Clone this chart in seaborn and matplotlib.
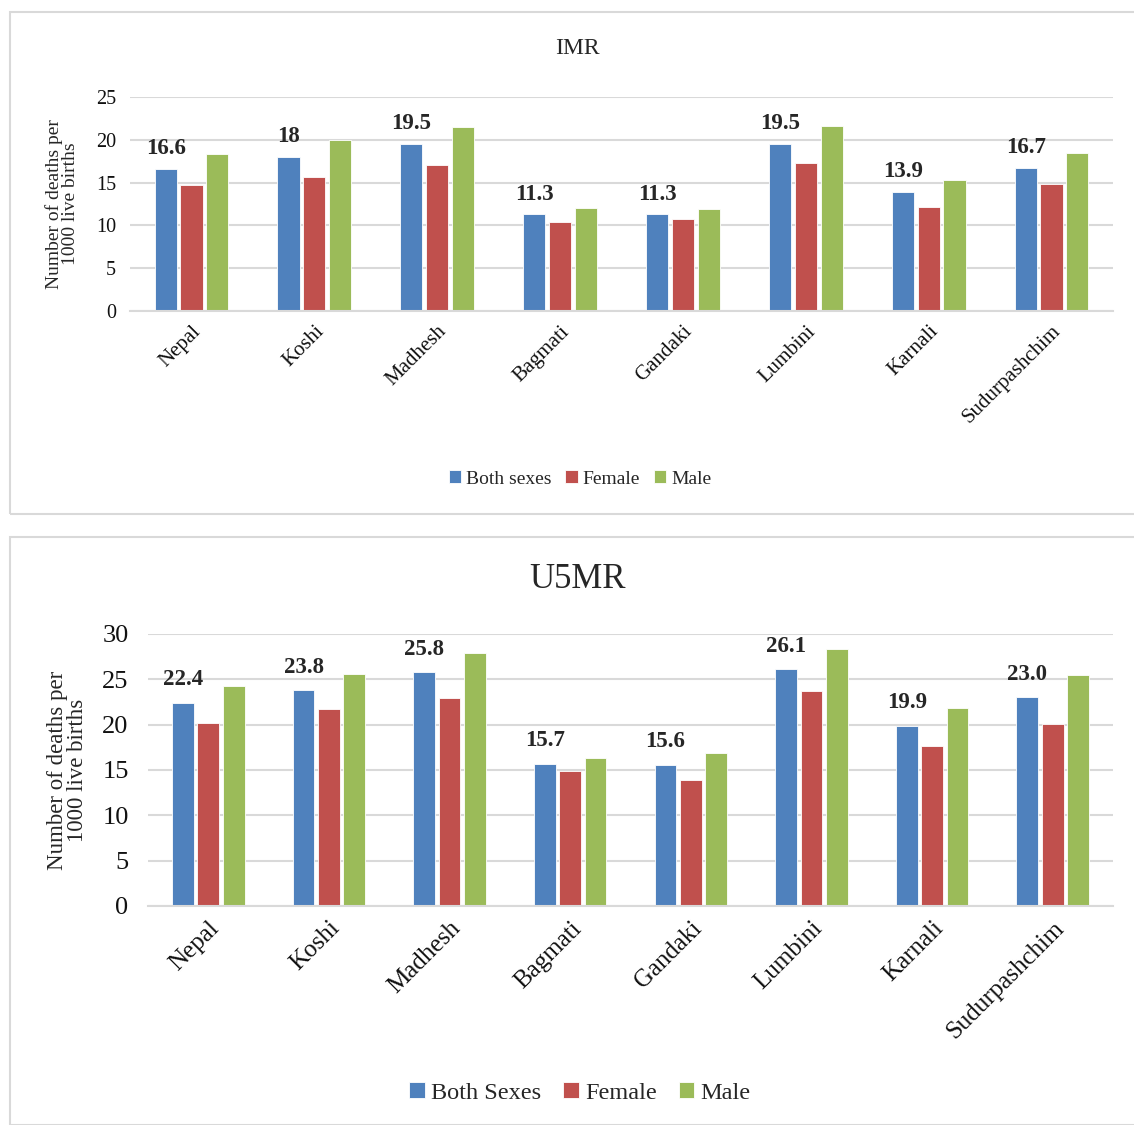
import pandas as pd
import seaborn as sns
import matplotlib.pyplot as plt
from matplotlib.patches import Rectangle

sns.set_theme(style="white")
plt.rcParams['font.family'] = ['Liberation Serif', 'DejaVu Serif']

provinces = ["Nepal", "Koshi", "Madhesh", "Bagmati", "Gandaki", "Lumbini", "Karnali", "Sudurpashchim"]

imr_both = [16.6, 18.0, 19.5, 11.3, 11.3, 19.5, 13.9, 16.7]
imr_female = [14.7, 15.7, 17.0, 10.4, 10.7, 17.3, 12.2, 14.8]
imr_male = [18.3, 20.0, 21.5, 12.0, 11.9, 21.6, 15.3, 18.4]
imr_labels = ["16.6", "18", "19.5", "11.3", "11.3", "19.5", "13.9", "16.7"]

u5_both = [22.4, 23.8, 25.8, 15.7, 15.6, 26.1, 19.9, 23.0]
u5_female = [20.2, 21.7, 22.9, 14.9, 13.9, 23.7, 17.7, 20.1]
u5_male = [24.3, 25.6, 27.9, 16.3, 16.9, 28.3, 21.8, 25.5]
u5_labels = ["22.4", "23.8", "25.8", "15.7", "15.6", "26.1", "19.9", "23.0"]

colors = ["#4f81bd", "#c0504d", "#9bbb59"]


def make_df(both, female, male, names):
    rows = []
    for vals, name in zip([both, female, male], names):
        for p, v in zip(provinces, vals):
            rows.append({"province": p, "sex": name, "value": v})
    return pd.DataFrame(rows)


def draw(ax, df, labels, ymax, tick_size, ytick_size, ytick_pad, ylab_size,
         ylab_pad, lab_size, lab_off, legend_y, legend_size, col_space):
    sns.barplot(data=df, x="province", y="value", hue="sex", palette=colors,
                width=0.63, gap=0.14, ax=ax, edgecolor="white", linewidth=0.6,
                saturation=1)
    ax.set_ylim(0, ymax)
    ax.set_yticks(range(0, ymax + 1, 5))
    ax.set_xlim(-0.5, len(provinces) - 0.5)
    ax.yaxis.grid(True, color="#d9d9d9", linewidth=1.5)
    ax.set_axisbelow(True)
    for s in ["top", "right", "left"]:
        ax.spines[s].set_visible(False)
    ax.spines["bottom"].set_color("#d9d9d9")
    ax.spines["bottom"].set_linewidth(1.5)
    ax.tick_params(axis="x", length=0, labelsize=tick_size, colors="#111111", pad=8)
    ax.tick_params(axis="y", length=0, labelsize=ytick_size, colors="#111111", pad=ytick_pad)
    plt.setp(ax.get_xticklabels(), rotation=45, ha="right", rotation_mode="anchor")
    ax.set_xlabel("")
    ax.set_ylabel("Number of deaths per\n1000 live births", fontsize=ylab_size,
                  linespacing=0.95, labelpad=ylab_pad)
    # value labels above the "both sexes" bars
    first = ax.containers[0]
    for bar, txt in zip(first, labels):
        ax.annotate(txt, (bar.get_x() + bar.get_width() / 2, bar.get_height()),
                    xytext=(0, lab_off), textcoords="offset points", ha="center",
                    va="bottom", fontsize=lab_size, fontweight="bold")
    ax.legend(loc="center", bbox_to_anchor=(580 / 1134, legend_y),
              bbox_transform=ax.figure.transFigure, ncol=3, frameon=False,
              fontsize=legend_size, handlelength=0.65, handleheight=0.65,
              handletextpad=0.25, columnspacing=col_space)


fig = plt.figure(figsize=(11.34, 11.25), dpi=100)

# panel frames
fig.patches.append(Rectangle((10 / 1134, 1 - 514 / 1125), 1.0, 502 / 1125,
                             transform=fig.transFigure, fill=False,
                             edgecolor="#d9d9d9", linewidth=1.5))
fig.patches.append(Rectangle((10 / 1134, 0.0), 1.0, 1 - 537 / 1125,
                             transform=fig.transFigure, fill=False,
                             edgecolor="#d9d9d9", linewidth=1.5))

ax1 = fig.add_axes([130 / 1134, 1 - 311 / 1125, 983 / 1134, 214 / 1125])
draw(ax1, make_df(imr_both, imr_female, imr_male, ["Both sexes", "Female", "Male"]),
     imr_labels, 25, 15, 14.5, 10, 14, 12, 16.5, 7, 1 - 479 / 1125, 14, 0.7)
fig.text(577 / 1134, 1 - 48 / 1125, "IMR", ha="center", va="center", fontsize=17)

ax2 = fig.add_axes([148 / 1134, 1 - 906 / 1125, 965 / 1134, 272 / 1125])
draw(ax2, make_df(u5_both, u5_female, u5_male, ["Both Sexes", "Female", "Male"]),
     u5_labels, 30, 18, 19, 14, 16.5, 10, 16.5, 9, 1 - 1093 / 1125, 17.5, 0.9)
fig.text(577 / 1134, 1 - 580 / 1125, "U5MR", ha="center", va="center", fontsize=25)

fig.savefig("out.png", dpi=100)
